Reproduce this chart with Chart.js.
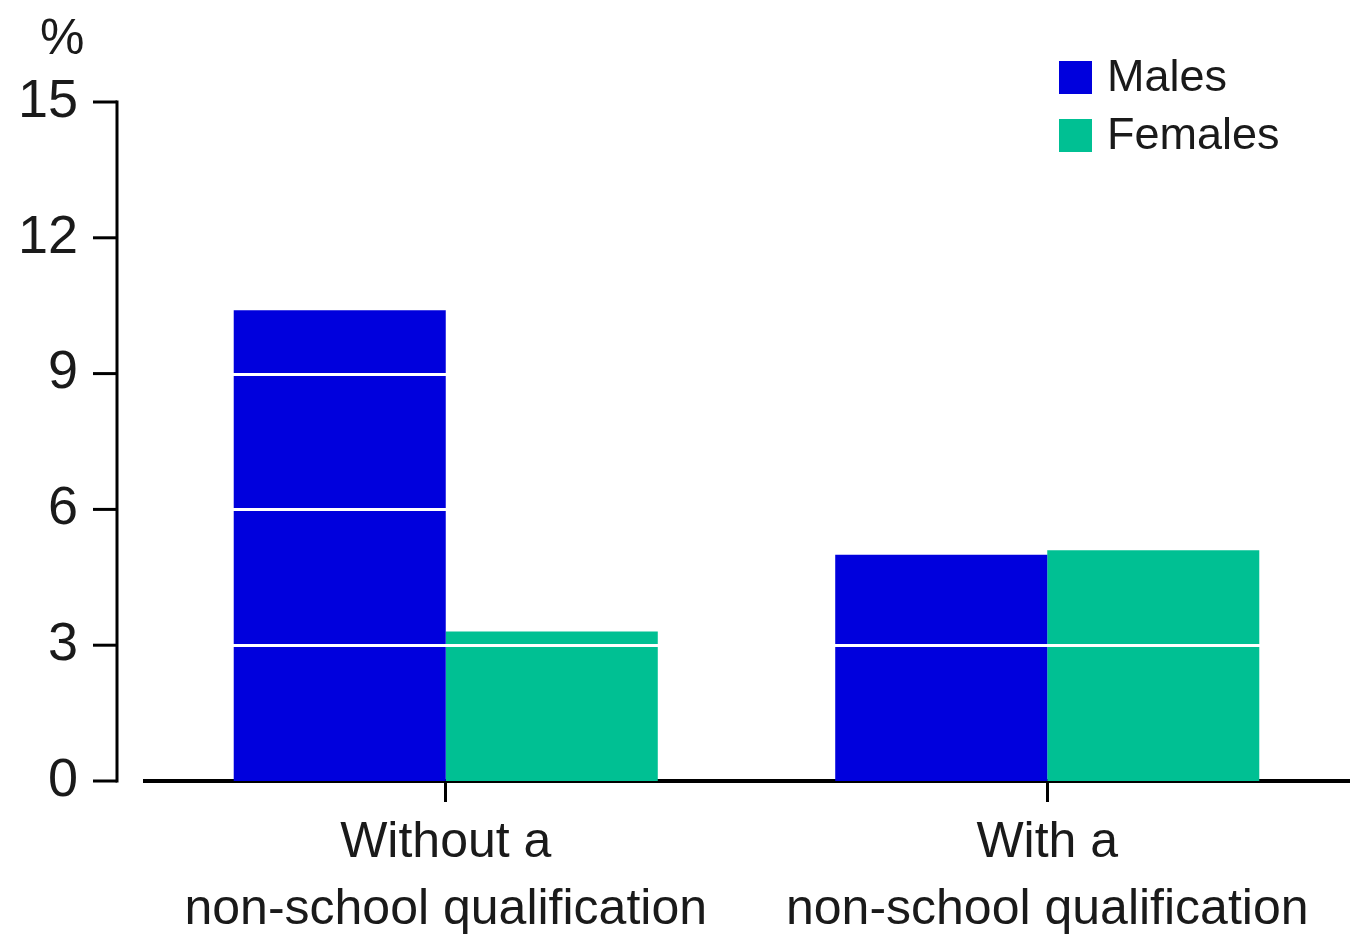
<!DOCTYPE html>
<html>
<head>
<meta charset="utf-8">
<script src="https://cdn.jsdelivr.net/npm/chart.js@4"></script>
<style>
html,body{margin:0;padding:0;background:#fff;}
#wrap{width:1353px;height:941px;position:relative;}
</style>
</head>
<body>
<div id="wrap"><canvas id="c" width="1353" height="941"></canvas></div>
<script>
const categories = [["Without a", "non-school qualification"], ["With a", "non-school qualification"]];
const seriesNames = ["Males", "Females"];
const males = [10.4, 5.0];
const females = [3.3, 5.1];
const yTicks = [0, 3, 6, 9, 12, 15];
const unitLabel = "%";
const colors = ["#0000DD", "#00C093"];

const FONT = "'Liberation Sans', Arial, sans-serif";
const TXT = "#1a1a1a";

const overlayPlugin = {
  id: 'overlay',
  afterDatasetsDraw(chart) {
    const ctx = chart.ctx, ca = chart.chartArea, y = chart.scales.y;
    ctx.save();
    // white gridlines on top of bars
    ctx.strokeStyle = '#ffffff';
    ctx.lineWidth = 3;
    yTicks.forEach(v => {
      if (v === 0) return;
      const py = Math.round(y.getPixelForValue(v)) + 0.5;
      ctx.beginPath();
      ctx.moveTo(ca.left, py);
      ctx.lineTo(ca.right, py);
      ctx.stroke();
    });
    // detached y axis line and tick marks
    const ax = ca.left - 28;
    ctx.strokeStyle = '#000';
    ctx.lineWidth = 3;
    ctx.beginPath();
    ctx.moveTo(ax, y.getPixelForValue(yTicks[yTicks.length - 1]) - 1.5);
    ctx.lineTo(ax, y.getPixelForValue(0) + 1.5);
    ctx.stroke();
    yTicks.forEach(v => {
      const py = y.getPixelForValue(v);
      ctx.beginPath();
      ctx.moveTo(ax - 24, py);
      ctx.lineTo(ax, py);
      ctx.stroke();
    });
    // unit label
    ctx.fillStyle = TXT;
    ctx.font = "50px " + FONT;
    ctx.textAlign = 'left';
    ctx.textBaseline = 'middle';
    ctx.fillText(unitLabel, 40, 40);
    // legend
    ctx.font = "45px " + FONT;
    chart.data.datasets.forEach((ds, i) => {
      const top = 61 + i * 58;
      ctx.fillStyle = ds.backgroundColor;
      ctx.fillRect(1059, top, 33, 33);
      ctx.fillStyle = TXT;
      ctx.fillText(ds.label, 1107, top + 18);
    });
    ctx.restore();
  }
};

new Chart(document.getElementById('c'), {
  type: 'bar',
  data: {
    labels: categories,
    datasets: [
      { label: seriesNames[0], data: males, backgroundColor: colors[0], borderWidth: 0, barPercentage: 1, categoryPercentage: 0.705 },
      { label: seriesNames[1], data: females, backgroundColor: colors[1], borderWidth: 0, barPercentage: 1, categoryPercentage: 0.705 }
    ]
  },
  options: {
    responsive: false,
    animation: false,
    devicePixelRatio: 1,
    layout: { padding: { top: 102, right: 5, bottom: 0, left: 0 } },
    plugins: { legend: { display: false }, tooltip: { enabled: false } },
    scales: {
      x: {
        offset: true,
        grid: { display: true, drawOnChartArea: false, drawTicks: true, tickLength: 21, color: '#000', lineWidth: 3, offset: false },
        border: { display: true, color: '#000', width: 4 },
        ticks: { color: TXT, font: { family: FONT, size: 50, lineHeight: 1.34 }, padding: 8, maxRotation: 0, autoSkip: false },
        afterFit(scale) { scale.height = 160; }
      },
      y: {
        min: 0, max: 15,
        afterBuildTicks(scale) { scale.ticks = yTicks.map(v => ({ value: v })); },
        grid: { display: false, drawTicks: false },
        border: { display: false },
        ticks: { color: TXT, font: { family: FONT, size: 54 }, padding: 67 },
        afterFit(scale) { scale.width = 145; }
      }
    }
  },
  plugins: [overlayPlugin]
});
</script>
</body>
</html>
